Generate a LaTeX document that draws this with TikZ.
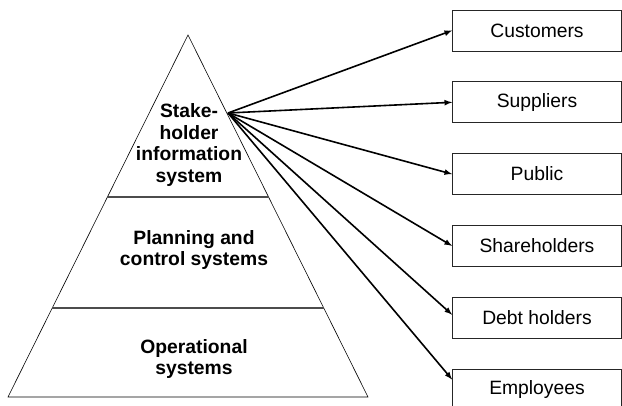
\documentclass[tikz,border=0pt]{standalone}
\usepackage{fontspec}
\setmainfont{Liberation Sans}
\usetikzlibrary{arrows,positioning,calc}

\begin{document}
\begin{tikzpicture}[x=1pt,y=1pt,
        party/.style={draw=black!85,line width=0.8pt,minimum width=169pt,minimum height=41pt,inner sep=0pt,font=\fontsize{19.3}{21.5}\selectfont},
        level/.style={align=center,font=\fontsize{19.3}{21.5}\selectfont\bfseries},
        feed/.style={line width=1.6pt,-latex}]
        \useasboundingbox (0,0) rectangle (622,405);

        % the pyramid - apex and the two base corners
        \coordinate (apex) at (188,370);
        \coordinate (bl) at (8,8);
        \coordinate (br) at (368,8);
        \draw[line width=0.6pt] (apex)--(bl)--(br)--cycle;
        \draw[gray!60!black,line width=1.2pt] ($(apex)!0.4475!(bl)$)--($(apex)!0.4475!(br)$);   % upper divider
        \draw[gray!60!black,line width=1.5pt] ($(apex)!0.754!(bl)$)--($(apex)!0.754!(br)$);     % lower divider

        \node[level] (sis) at (189,260) {Stake-\\holder\\information\\system};
        \node[level] (pcs) at (194,155) {Planning and\\control systems};
        \node[level] (ops) at (194,46) {Operational\\systems};

        % stakeholder boxes, stacked from the top
        \node[party] (customers) at (537,374.5) {Customers};
        \node[party,below=30pt of customers] (suppliers) {Suppliers};
        \node[party,below=30pt of suppliers] (public) {Public};
        \node[party,below=30pt of public] (shareholders) {Shareholders};
        \node[party,below=30pt of shareholders] (debtholders) {Debt holders};
        \node[party,below=30pt of debtholders] (employees) {Employees};

        \coordinate (src) at (228,292);    % all arrows leave from here
        \draw[feed] (src)--(customers.west);
        \draw[feed] (src)--(suppliers.west);
        \draw[feed] (src)--(public.west);
        \draw[feed] (src)--(shareholders.west);
        \draw[feed] (src)--([yshift=3pt]debtholders.west);
        \draw[feed] (src)--([yshift=10pt]employees.west);   % hits the upper part of the box
    \end{tikzpicture}
\end{document}
